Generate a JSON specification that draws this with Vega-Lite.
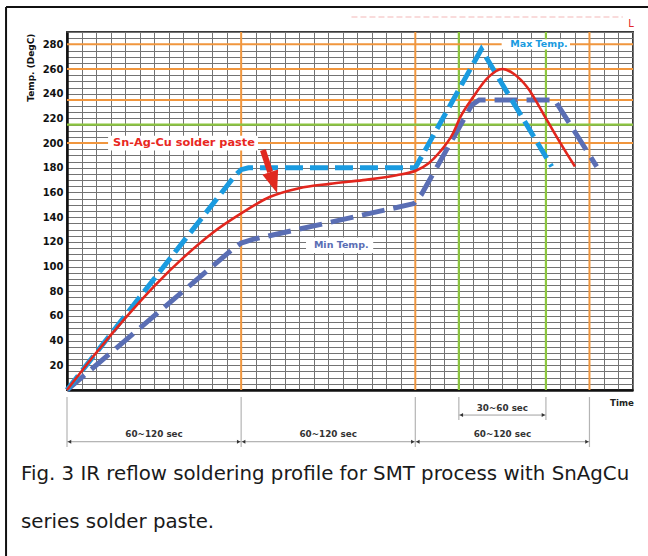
{
  "$schema": "https://vega.github.io/schema/vega-lite/v6.json",
  "width": 566,
  "height": 358,
  "autosize": {"type": "none"},
  "padding": {"left": 67, "top": 32, "right": 15, "bottom": 166},
  "background": "white",
  "config": {"view": {"stroke": "#3a3a3a", "strokeWidth": 2}, "font": "DejaVu Sans"},
  "datasets": {
    "vlines": [
      {"t": 120, "T": 0, "T2": 290, "kind": "zone"}, {"t": 240, "T": 0, "T2": 290, "kind": "zone"}, {"t": 360, "T": 0, "T2": 290, "kind": "zone"},
      {"t": 270, "T": 0, "T2": 290, "kind": "liquidus"}, {"t": 330, "T": 0, "T2": 290, "kind": "liquidus"}
    ],
    "hlines": [
      {"T": 280, "t": 0, "t2": 390, "kind": "limit"}, {"T": 260, "t": 0, "t2": 390, "kind": "limit"}, {"T": 235, "t": 0, "t2": 390, "kind": "limit"},
      {"T": 200, "t": 0, "t2": 390, "kind": "limit"}, {"T": 215, "t": 0, "t2": 390, "kind": "liquidus"}
    ],
    "boxes": [
      {"name": "Sn-Ag-Cu solder paste", "t": 28.3, "t2": 131.6, "T": 194, "T2": 206},
      {"name": "Max Temp.", "t": 299.5, "t2": 346.6, "T": 275.8, "T2": 284.2},
      {"name": "Min Temp.", "t": 164.7, "t2": 211, "T": 111, "T2": 123.5}
    ],
    "labels": [
      {"name": "Sn-Ag-Cu solder paste", "t": 80.6, "T": 200},
      {"name": "Max Temp.", "t": 325.2, "T": 280},
      {"name": "Min Temp.", "t": 189, "T": 117.2}
    ],
    "curves": [
      {"series": "Max", "t": 0, "T": 0}, {"series": "Max", "t": 116, "T": 174}, {"series": "Max", "t": 120, "T": 178.5},
      {"series": "Max", "t": 125, "T": 180}, {"series": "Max", "t": 240, "T": 180}, {"series": "Max", "t": 285.5, "T": 276},
      {"series": "Max", "t": 334, "T": 181},
      {"series": "Paste", "t": 0, "T": 0}, {"series": "Paste", "t": 20, "T": 30}, {"series": "Paste", "t": 40, "T": 58},
      {"series": "Paste", "t": 60, "T": 84}, {"series": "Paste", "t": 80, "T": 107}, {"series": "Paste", "t": 100, "T": 127},
      {"series": "Paste", "t": 120, "T": 143}, {"series": "Paste", "t": 140, "T": 156.5}, {"series": "Paste", "t": 160, "T": 163.5},
      {"series": "Paste", "t": 181, "T": 167}, {"series": "Paste", "t": 204, "T": 170}, {"series": "Paste", "t": 227, "T": 174},
      {"series": "Paste", "t": 241, "T": 178}, {"series": "Paste", "t": 249, "T": 183.5}, {"series": "Paste", "t": 257, "T": 193},
      {"series": "Paste", "t": 266, "T": 208}, {"series": "Paste", "t": 271, "T": 221}, {"series": "Paste", "t": 280, "T": 237.5},
      {"series": "Paste", "t": 290, "T": 253}, {"series": "Paste", "t": 300, "T": 260}, {"series": "Paste", "t": 308, "T": 256},
      {"series": "Paste", "t": 317, "T": 245.5}, {"series": "Paste", "t": 330.5, "T": 219}, {"series": "Paste", "t": 340, "T": 200},
      {"series": "Paste", "t": 350, "T": 181},
      {"series": "Min", "t": 0, "T": 0}, {"series": "Min", "t": 114, "T": 114}, {"series": "Min", "t": 120, "T": 119},
      {"series": "Min", "t": 128, "T": 122}, {"series": "Min", "t": 180, "T": 135.5}, {"series": "Min", "t": 239, "T": 151},
      {"series": "Min", "t": 244, "T": 158}, {"series": "Min", "t": 279, "T": 231}, {"series": "Min", "t": 284, "T": 235},
      {"series": "Min", "t": 336, "T": 235}, {"series": "Min", "t": 365, "T": 181}
    ],
    "arrow": [{"t": 135.0, "T": 194.4, "t2": 140.0, "T2": 176.5}],
    "arrowhead": [{"t": 142.4, "T": 168}],
    "guides": [
      {"t": 0, "T": -5.7, "T2": -46.2}, {"t": 120, "T": -5.7, "T2": -46.2}, {"t": 240, "T": -5.7, "T2": -46.2},
      {"t": 360, "T": -5.7, "T2": -46.2}, {"t": 270, "T": -5.7, "T2": -24.3}, {"t": 330, "T": -5.7, "T2": -24.3}
    ],
    "spans": [
      {"t": 0, "t2": 120, "T": -41.9}, {"t": 120, "t2": 240, "T": -41.9},
      {"t": 240, "t2": 360, "T": -41.9}, {"t": 270, "t2": 330, "T": -20.3}
    ],
    "spanheads": [
      {"t": 0, "T": -41.9, "dir": "left"}, {"t": 120, "T": -41.9, "dir": "right"},
      {"t": 120, "T": -41.9, "dir": "left"}, {"t": 240, "T": -41.9, "dir": "right"},
      {"t": 240, "T": -41.9, "dir": "left"}, {"t": 360, "T": -41.9, "dir": "right"},
      {"t": 270, "T": -20.3, "dir": "left"}, {"t": 330, "T": -20.3, "dir": "right"}
    ],
    "spanlabels": [
      {"t": 60, "T": -35.6, "label": "60~120 sec"}, {"t": 180, "T": -35.6, "label": "60~120 sec"},
      {"t": 300, "T": -35.6, "label": "60~120 sec"}, {"t": 300, "T": -14.6, "label": "30~60 sec"}
    ],
    "timelabel": [{"t": 382.4, "T": -10.3, "label": "Time"}],
    "captions": [
      {"t": -31.7, "T": -72.9, "text": "Fig. 3 IR reflow soldering profile for SMT process with SnAgCu"},
      {"t": -31.7, "T": -111.8, "text": "series solder paste."}
    ],
    "frame": [
      {"t": -42, "T": 310.25, "t2": 410, "T2": 310.25},
      {"t": -42, "T": 310.25, "t2": -42, "T2": -140}
    ],
    "artifact": [{"t": 196, "t2": 383, "T": 302.2}],
    "artifacttext": [{"t": 388.6, "T": 294.2, "label": "L"}]
  },
  "encoding": {
    "x": {"field": "t", "type": "quantitative", "scale": {"domain": [0, 390], "nice": false, "zero": false},
      "axis": {"values": [0,10,20,30,40,50,60,70,80,90,100,110,120,130,140,150,160,170,180,190,200,210,220,230,240,250,260,270,280,290,300,310,320,330,340,350,360,370,380,390],
        "grid": true, "gridColor": "#737373", "gridWidth": 1, "labels": false, "ticks": false,
        "domain": true, "domainColor": "#111111", "domainWidth": 2.5, "title": null}},
    "y": {"field": "T", "type": "quantitative", "scale": {"domain": [0, 290], "nice": false, "zero": false},
      "axis": {"values": [0,5,10,15,20,25,30,35,40,45,50,55,60,65,70,75,80,85,90,95,100,105,110,115,120,125,130,135,140,145,150,155,160,165,170,175,180,185,190,195,200,205,210,215,220,225,230,235,240,245,250,255,260,265,270,275,280,285,290],
        "grid": true, "gridColor": "#737373", "gridWidth": 1, "ticks": false,
        "domain": true, "domainColor": "#111111", "domainWidth": 2.5,
        "labelExpr": "datum.value % 20 === 0 && datum.value > 0 ? datum.label : ''",
        "labelFont": "DejaVu Sans", "labelFontWeight": "bold", "labelFontSize": 10, "labelColor": "#111111",
        "labelPadding": 4, "labelOverlap": false,
        "title": "Temp. (DegC)", "titleFont": "DejaVu Sans", "titleFontSize": 9, "titleFontWeight": "bold",
        "titleColor": "#111111", "titleAngle": 270, "titleAlign": "right", "titleBaseline": "middle",
        "titleX": -36.3, "titleY": 1}}
  },
  "layer": [
    {
      "data": {"name": "vlines"},
      "transform": [{"filter": "datum.kind === 'zone'"}],
      "mark": {"type": "rule", "color": "#f0963e", "strokeWidth": 2},
      "encoding": {"y2": {"field": "T2"}}
    },
    {
      "data": {"name": "vlines"},
      "transform": [{"filter": "datum.kind === 'liquidus'"}],
      "mark": {"type": "rule", "color": "#8cc63f", "strokeWidth": 2.2},
      "encoding": {"y2": {"field": "T2"}}
    },
    {
      "data": {"name": "hlines"},
      "transform": [{"filter": "datum.kind === 'limit'"}],
      "mark": {"type": "rule", "color": "#f0963e", "strokeWidth": 2},
      "encoding": {"x2": {"field": "t2"}}
    },
    {
      "data": {"name": "hlines"},
      "transform": [{"filter": "datum.kind === 'liquidus'"}],
      "mark": {"type": "rule", "color": "#8cc63f", "strokeWidth": 2.2},
      "encoding": {"x2": {"field": "t2"}}
    },
    {
      "data": {"name": "boxes"},
      "mark": {"type": "rect", "fill": "white", "stroke": null},
      "encoding": {"x2": {"field": "t2"}, "y2": {"field": "T2"}}
    },
    {
      "data": {"name": "curves"},
      "transform": [{"filter": "datum.series === 'Min'"}],
      "mark": {"type": "line", "color": "#5a6eb4", "strokeWidth": 5, "strokeDash": [23, 9]},
      "encoding": {"order": {"field": "t", "type": "quantitative"}}
    },
    {
      "data": {"name": "curves"},
      "transform": [{"filter": "datum.series === 'Max'"}],
      "mark": {"type": "line", "color": "#1a9be0", "strokeWidth": 5, "strokeDash": [18, 7]},
      "encoding": {"order": {"field": "t", "type": "quantitative"}}
    },
    {
      "data": {"name": "curves"},
      "transform": [{"filter": "datum.series === 'Paste'"}],
      "mark": {"type": "line", "color": "#e2261d", "strokeWidth": 2.6, "interpolate": "monotone"},
      "encoding": {"order": {"field": "t", "type": "quantitative"}}
    },
    {
      "data": {"name": "labels"},
      "transform": [{"filter": "datum.name === 'Sn-Ag-Cu solder paste'"}],
      "mark": {"type": "text", "font": "DejaVu Sans", "fontWeight": "bold", "fontSize": 11.3, "color": "#e8281f", "align": "center", "baseline": "middle"},
      "encoding": {"text": {"field": "name"}}
    },
    {
      "data": {"name": "labels"},
      "transform": [{"filter": "datum.name !== 'Sn-Ag-Cu solder paste'"}],
      "mark": {"type": "text", "font": "DejaVu Sans", "fontWeight": "bold", "fontSize": 9.5, "align": "center", "baseline": "middle"},
      "encoding": {
        "text": {"field": "name"},
        "color": {"field": "name", "type": "nominal", "scale": {"domain": ["Max Temp.", "Min Temp."], "range": ["#1a9be0", "#5a6eb4"]}, "legend": null}
      }
    },
    {
      "data": {"name": "arrow"},
      "mark": {"type": "rule", "color": "#e0291f", "strokeWidth": 6},
      "encoding": {"x2": {"field": "t2"}, "y2": {"field": "T2"}}
    },
    {
      "data": {"name": "arrowhead"},
      "mark": {"type": "point", "shape": "M-0.75,-1L0.75,-1L0,1Z", "filled": true, "color": "#e0291f", "opacity": 1, "size": 484, "angle": -18}
    },
    {
      "data": {"name": "guides"},
      "mark": {"type": "rule", "color": "#b4b4b4", "strokeWidth": 1.2},
      "encoding": {"y2": {"field": "T2"}}
    },
    {
      "data": {"name": "spans"},
      "mark": {"type": "rule", "color": "#a0a0a0", "strokeWidth": 1},
      "encoding": {"x2": {"field": "t2"}}
    },
    {
      "data": {"name": "spanheads"},
      "transform": [{"filter": "datum.dir === 'left'"}],
      "mark": {"type": "point", "shape": "triangle-left", "filled": true, "color": "#333333", "opacity": 1, "size": 16, "xOffset": 2.5}
    },
    {
      "data": {"name": "spanheads"},
      "transform": [{"filter": "datum.dir === 'right'"}],
      "mark": {"type": "point", "shape": "triangle-right", "filled": true, "color": "#333333", "opacity": 1, "size": 16, "xOffset": -2.5}
    },
    {
      "data": {"name": "spanlabels"},
      "mark": {"type": "text", "font": "DejaVu Sans", "fontWeight": "bold", "fontSize": 8.8, "color": "#333333", "align": "center", "baseline": "middle"},
      "encoding": {"text": {"field": "label"}}
    },
    {
      "data": {"name": "timelabel"},
      "mark": {"type": "text", "font": "DejaVu Sans", "fontWeight": "bold", "fontSize": 8.7, "color": "#222222", "align": "center", "baseline": "middle"},
      "encoding": {"text": {"field": "label"}}
    },
    {
      "data": {"name": "captions"},
      "mark": {"type": "text", "font": "DejaVu Sans", "fontSize": 19.8, "color": "#1a1a1a", "align": "left", "baseline": "alphabetic"},
      "encoding": {"text": {"field": "text"}}
    },
    {
      "data": {"name": "frame"},
      "mark": {"type": "rule", "color": "#111111", "strokeWidth": 2},
      "encoding": {"x2": {"field": "t2"}, "y2": {"field": "T2"}}
    },
    {
      "data": {"name": "artifact"},
      "mark": {"type": "rule", "color": "#f7d0d0", "strokeWidth": 1.5, "strokeDash": [6, 3]},
      "encoding": {"x2": {"field": "t2"}}
    },
    {
      "data": {"name": "artifacttext"},
      "mark": {"type": "text", "font": "DejaVu Sans", "fontSize": 10, "color": "#e3262a", "align": "center", "baseline": "alphabetic"},
      "encoding": {"text": {"field": "label"}}
    }
  ]
}
